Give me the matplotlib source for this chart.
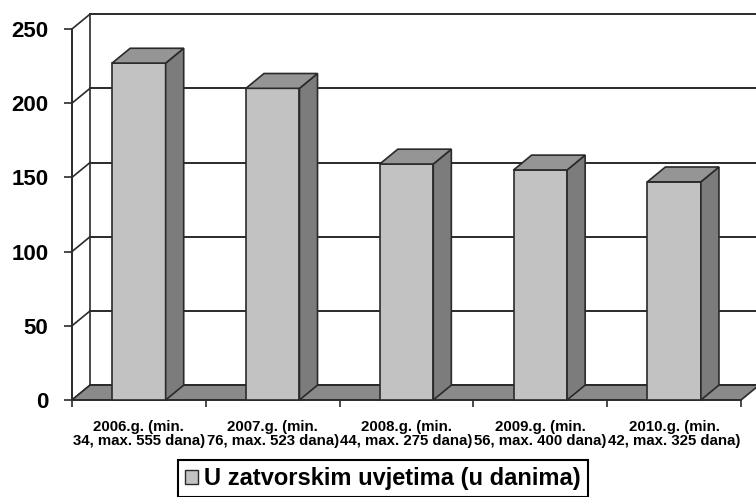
import matplotlib.pyplot as plt
from matplotlib.patches import Polygon, Patch

categories = ['2006.g. (min.\n34, max. 555 dana)',
              '2007.g. (min.\n76, max. 523 dana)',
              '2008.g. (min.\n44, max. 275 dana)',
              '2009.g. (min.\n56, max. 400 dana)',
              '2010.g. (min.\n42, max. 325 dana)']
values = [227, 210, 159, 155, 147]
yticks = [0, 50, 100, 150, 200, 250]
series_name = 'U zatvorskim uvjetima (u danima)'

front_c = '#c2c2c2'
side_c = '#7c7c7c'
top_c = '#959595'
floor_c = '#8a8a8a'
edge_c = '#2a2a2a'

# depth offset of the fake 3d look (data units)
dx, dy = 0.135, 10.0
n = len(values)

fig = plt.figure(figsize=(7.56, 4.97), dpi=100)
ax = fig.add_axes([0.0952, 0.1952, 0.885, 0.7465])
ax.set_xlim(0, n)
ax.set_ylim(0, 250)

# back wall grid lines and left side diagonals
for v in yticks:
    ax.plot([dx, n + dx], [v + dy, v + dy], color=edge_c, lw=1.4, zorder=1, clip_on=False)
    ax.plot([0, dx], [v, v + dy], color=edge_c, lw=1.2, zorder=1, clip_on=False)
ax.plot([dx, dx], [dy, 250 + dy], color=edge_c, lw=1.2, zorder=1, clip_on=False)

# floor
ax.add_patch(Polygon([(0, 0), (n, 0), (n + dx, dy), (dx, dy)], closed=True,
                     facecolor=floor_c, edgecolor=edge_c, lw=1.2, zorder=2, clip_on=False))

# bars
w0, w1 = 0.3, 0.7
for i, v in enumerate(values):
    l, r = i + w0, i + w1
    ax.add_patch(Polygon([(l, 0), (r, 0), (r, v), (l, v)], closed=True,
                         facecolor=front_c, edgecolor=edge_c, lw=1.2, zorder=4, clip_on=False))
    ax.add_patch(Polygon([(r, 0), (r + dx, dy), (r + dx, v + dy), (r, v)], closed=True,
                         facecolor=side_c, edgecolor=edge_c, lw=1.2, zorder=4, clip_on=False))
    ax.add_patch(Polygon([(l, v), (r, v), (r + dx, v + dy), (l + dx, v + dy)], closed=True,
                         facecolor=top_c, edgecolor=edge_c, lw=1.2, zorder=4, clip_on=False))

for s in ['top', 'right']:
    ax.spines[s].set_visible(False)
ax.spines['left'].set_color(edge_c)
ax.spines['left'].set_linewidth(1.4)
ax.spines['bottom'].set_color(edge_c)
ax.spines['bottom'].set_linewidth(1.2)
ax.spines['bottom'].set_zorder(3)

ax.set_yticks(yticks)
ax.set_yticklabels([str(t) for t in yticks], fontsize=16, fontweight='bold',
                   family=['Liberation Sans', 'DejaVu Sans'])
ax.tick_params(axis='y', length=6, width=1.2, color=edge_c, pad=11)
ax.set_xticks(range(n + 1))
ax.set_xticklabels([])
ax.tick_params(axis='x', length=5, width=1.2, color=edge_c)

for i, lab in enumerate(categories):
    ax.text(i + 0.5, -0.055, lab, transform=ax.get_xaxis_transform(), ha='center', va='top',
            fontsize=10.8, fontweight='bold', linespacing=0.92,
            family=['Liberation Sans', 'DejaVu Sans'])

leg = fig.legend(handles=[Patch(facecolor=front_c, edgecolor=edge_c, lw=1.0, label=series_name)],
                 loc='upper left', bbox_to_anchor=(178 / 756, 1 - 460 / 497),
                 fancybox=False, edgecolor='black', framealpha=1,
                 prop={'family': 'Liberation Sans', 'weight': 'bold', 'size': 17},
                 handlelength=0.55, handleheight=0.55, handletextpad=0.25, borderpad=0.3,
                 borderaxespad=0)
leg.get_frame().set_linewidth(1.5)

fig.savefig('out.png', dpi=100)
